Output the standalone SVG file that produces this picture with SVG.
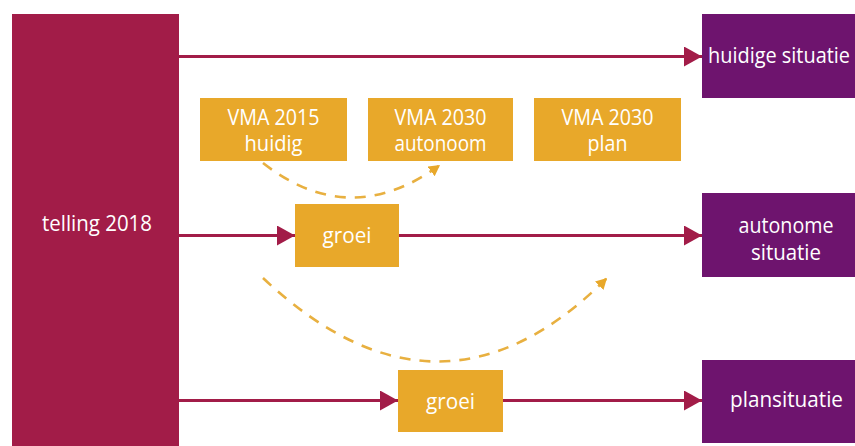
<svg xmlns="http://www.w3.org/2000/svg" width="855" height="446" viewBox="0 0 855 446">
  <defs>
    <marker id="arr" markerUnits="userSpaceOnUse" markerWidth="20" markerHeight="22" refX="18" refY="10" orient="auto">
      <path d="M0,0 L18,10 L0,20 Z" fill="#A21C48"/>
    </marker>
    <marker id="darr" markerUnits="userSpaceOnUse" markerWidth="14" markerHeight="14" refX="11" refY="6" orient="auto">
      <path d="M0,0 L11,6 L0,12 Z" fill="#E8A82A"/>
    </marker>
  </defs>
  <style>
    text { font-family: "Open Sans", "Noto Sans", "DejaVu Sans", sans-serif; fill: #ffffff; text-anchor: middle; }
    .red { fill: #A21C48; }
    .pur { fill: #6E146E; }
    .yel { fill: #E8A82A; }
    .ln { stroke: #A21C48; stroke-width: 3; fill: none; marker-end: url(#arr); }
    .dash { stroke: #E8B040; stroke-width: 2.6; fill: none; stroke-dasharray: 11 9; marker-end: url(#darr); }
    .t21 { font-size: 21px; }
  </style>
  <rect width="855" height="446" fill="#ffffff"/>

  <g id="connectors">
    <line class="ln" x1="179" y1="56.5" x2="702" y2="56.5"/>
    <line class="ln" x1="179" y1="235.5" x2="295" y2="235.5"/>
    <line class="ln" x1="399" y1="235.5" x2="702" y2="235.5"/>
    <line class="ln" x1="179" y1="400.5" x2="398" y2="400.5"/>
    <line class="ln" x1="503" y1="400.5" x2="702" y2="400.5"/>
    <path class="dash" d="M263,163 Q350,231 440,165"/>
    <path class="dash" d="M263,278 Q440,445 607,278"/>
  </g>

  <g id="telling">
    <rect class="red" x="12" y="14" width="167" height="440"/>
    <text class="t21" x="97" y="231" textLength="110" lengthAdjust="spacingAndGlyphs">telling 2018</text>
  </g>

  <g id="huidige-situatie">
    <rect class="pur" x="702" y="14" width="170" height="84"/>
    <text class="t21" x="708" y="63" style="text-anchor:start" textLength="142" lengthAdjust="spacingAndGlyphs">huidige situatie</text>
  </g>

  <g id="vma2015">
    <rect class="yel" x="200" y="98" width="147" height="63"/>
    <text class="t21" x="273.5" y="125" textLength="92" lengthAdjust="spacingAndGlyphs">VMA 2015</text>
    <text class="t21" x="273.5" y="151" textLength="58" lengthAdjust="spacingAndGlyphs">huidig</text>
  </g>

  <g id="vma2030-autonoom">
    <rect class="yel" x="368" y="98" width="145" height="63"/>
    <text class="t21" x="440.5" y="125" textLength="92" lengthAdjust="spacingAndGlyphs">VMA 2030</text>
    <text class="t21" x="440.5" y="151" textLength="92" lengthAdjust="spacingAndGlyphs">autonoom</text>
  </g>

  <g id="vma2030-plan">
    <rect class="yel" x="534" y="98" width="147" height="63"/>
    <text class="t21" x="607.5" y="125" textLength="92" lengthAdjust="spacingAndGlyphs">VMA 2030</text>
    <text class="t21" x="607.5" y="151" textLength="40" lengthAdjust="spacingAndGlyphs">plan</text>
  </g>

  <g id="groei-1">
    <rect class="yel" x="295" y="204" width="104" height="63"/>
    <text class="t21" x="347" y="243" textLength="49" lengthAdjust="spacingAndGlyphs">groei</text>
  </g>

  <g id="autonome-situatie">
    <rect class="pur" x="702" y="193" width="170" height="84"/>
    <text class="t21" x="786" y="233" textLength="95" lengthAdjust="spacingAndGlyphs">autonome</text>
    <text class="t21" x="786" y="260" textLength="70" lengthAdjust="spacingAndGlyphs">situatie</text>
  </g>

  <g id="groei-2">
    <rect class="yel" x="398" y="370" width="105" height="62"/>
    <text class="t21" x="450.5" y="409" textLength="49" lengthAdjust="spacingAndGlyphs">groei</text>
  </g>

  <g id="plansituatie">
    <rect class="pur" x="702" y="360" width="170" height="83"/>
    <text class="t21" x="786.5" y="407" textLength="113" lengthAdjust="spacingAndGlyphs">plansituatie</text>
  </g>
</svg>
